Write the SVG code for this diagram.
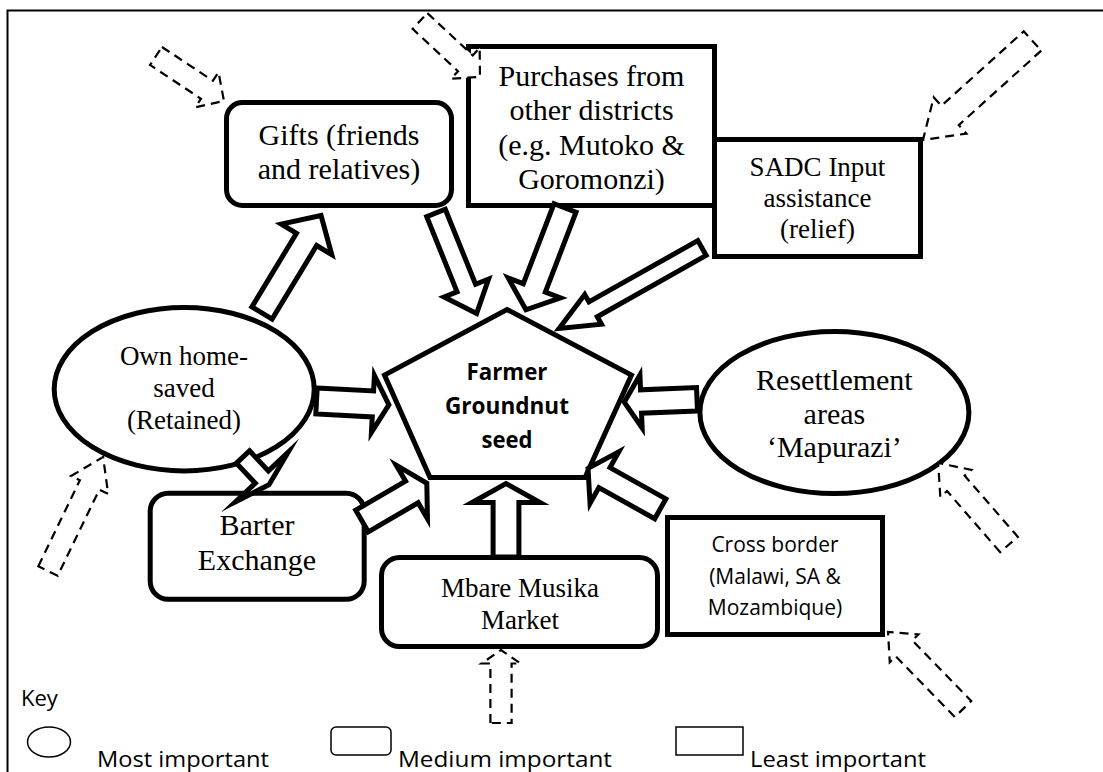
<svg xmlns="http://www.w3.org/2000/svg" width="1103" height="772" viewBox="0 0 1103 772">
<style>
  .box{fill:#fff;stroke:#000;stroke-width:5}
  .arw{fill:#fff;stroke:#000;stroke-width:5;stroke-linejoin:miter;stroke-miterlimit:10}
  .dash{fill:#fff;stroke:#000;stroke-width:2.2;stroke-dasharray:9 6}
  .serif{font-family:"Liberation Serif","Times New Roman",serif;fill:#000;text-anchor:middle}
  .sans{font-family:"Open Sans","Liberation Sans",sans-serif;fill:#000}
  .mid{text-anchor:middle}
  .keyshape{fill:none;stroke:#000;stroke-width:1.5}
</style>
<rect width="1103" height="772" fill="#fff"/>
<!-- frame: only the top and left edges are drawn -->
<path d="M7.5,772 V10.5 H1103" fill="none" stroke="#000" stroke-width="2"/>

<g id="nodes">
  <g id="gifts">
    <rect class="box" x="226.5" y="102.5" width="225" height="103" rx="16"/>
    <text class="serif" font-size="30" x="339" y="145">Gifts (friends</text>
    <text class="serif" font-size="30" x="339" y="178.5">and relatives)</text>
  </g>
  <g id="purchases">
    <rect class="box" x="468.5" y="46.5" width="246" height="159"/>
    <text class="serif" font-size="30" x="591.5" y="86">Purchases from</text>
    <text class="serif" font-size="30" x="591.5" y="120">other districts</text>
    <text class="serif" font-size="30" x="591.5" y="155">(e.g. Mutoko &amp;</text>
    <text class="serif" font-size="30" x="591.5" y="189">Goromonzi)</text>
  </g>
  <g id="sadc">
    <rect class="box" x="714.5" y="139.5" width="206" height="117"/>
    <text class="serif" font-size="27" x="817.5" y="176">SADC Input</text>
    <text class="serif" font-size="27" x="817.5" y="207">assistance</text>
    <text class="serif" font-size="27" x="817.5" y="238">(relief)</text>
  </g>
  <g id="own-saved">
    <ellipse class="box" cx="184.2" cy="389.2" rx="130" ry="81.7"/>
    <text class="serif" font-size="27" x="184" y="365">Own home-</text>
    <text class="serif" font-size="27" x="184" y="397">saved</text>
    <text class="serif" font-size="27" x="184" y="429">(Retained)</text>
  </g>
  <g id="farmer-seed">
    <polygon class="box" points="507,309.5 631.5,375 585,477.5 430,477.5 384.5,375"/>
    <text class="sans mid" font-size="23.5" font-weight="bold" x="507" y="380" textLength="81" lengthAdjust="spacingAndGlyphs">Farmer</text>
    <text class="sans mid" font-size="23.5" font-weight="bold" x="507" y="414" textLength="124" lengthAdjust="spacingAndGlyphs">Groundnut</text>
    <text class="sans mid" font-size="23.5" font-weight="bold" x="507" y="448" textLength="51" lengthAdjust="spacingAndGlyphs">seed</text>
  </g>
  <g id="resettlement">
    <ellipse class="box" cx="834.4" cy="412.5" rx="134.5" ry="81"/>
    <text class="serif" font-size="30" x="834.4" y="390">Resettlement</text>
    <text class="serif" font-size="30" x="834.4" y="424">areas</text>
    <text class="serif" font-size="30" x="834.4" y="457">‘Mapurazi’</text>
  </g>
  <g id="barter">
    <rect class="box" x="150.2" y="493.2" width="214" height="106" rx="18"/>
    <text class="serif" font-size="30" x="257" y="535">Barter</text>
    <text class="serif" font-size="30" x="257" y="570">Exchange</text>
  </g>
  <g id="mbare">
    <rect class="box" x="381.5" y="557.5" width="276" height="89" rx="18"/>
    <text class="serif" font-size="27" x="520" y="597">Mbare Musika</text>
    <text class="serif" font-size="27" x="520" y="628.5">Market</text>
  </g>
  <g id="cross-border">
    <rect class="box" x="667.5" y="517.5" width="215" height="117"/>
    <text class="sans mid" font-size="21" x="775" y="552">Cross border</text>
    <text class="sans mid" font-size="21" x="775" y="583.5">(Malawi, SA &amp;</text>
    <text class="sans mid" font-size="21" x="775" y="615">Mozambique)</text>
  </g>
</g>

<g id="connectors">
  <!-- block arrows: tail at origin, pointing along +x -->
  <polygon class="arw" transform="translate(262,313) rotate(-58.8)" points="0,-11.8 86,-11.8 86,-29.5 114,0 86,29.5 86,11.8 0,11.8"/>
  <polygon class="arw" transform="translate(436,213) rotate(68)" points="0,-10 80.9,-10 80.9,-24 108.4,0 80.9,24 80.9,10 0,10"/>
  <polygon class="arw" transform="translate(565,208) rotate(111)" points="0,-11.8 85.6,-11.8 85.6,-28 109,0 85.6,28 85.6,11.8 0,11.8"/>
  <polygon class="arw" transform="translate(702,248) rotate(150.6)" points="0,-8.5 125,-8.5 125,-17 164,0 125,17 125,8.5 0,8.5"/>
  <polygon class="arw" transform="translate(316.5,401) rotate(3)" points="0,-13 56.5,-13 56.5,-28.5 72.5,0 56.5,28.5 56.5,13 0,13"/>
  <polygon class="arw" transform="translate(243,457) rotate(46.7)" points="0,-9 27.5,-9 27.5,-36 38,0 27.5,36 27.5,9 0,9"/>
  <polygon class="arw" transform="translate(362,521) rotate(-30.2)" points="0,-12.5 57.7,-12.5 57.7,-31 75,0 57.7,31 57.7,12.5 0,12.5"/>
  <polygon class="arw" transform="translate(697,399.2) rotate(177.6)" points="0,-11.7 56,-11.7 56,-26.5 72.8,0 56,26.5 56,11.7 0,11.7"/>
  <polygon class="arw" transform="translate(660.3,508.8) rotate(-150.8)" points="0,-11.4 64,-11.4 64,-29.5 82.8,0 64,29.5 64,11.4 0,11.4"/>
  <polygon class="arw" transform="translate(506,557) rotate(-90)" points="0,-12.9 54.5,-12.9 54.5,-34 73.5,0 54.5,34 54.5,12.9 0,12.9"/>

  <!-- dashed outside-source arrows -->
  <polygon class="dash" transform="translate(156,56) rotate(33.5)" points="0,-10.8 61.1,-10.8 61.1,-21 81.5,0 61.1,21 61.1,10.8 0,10.8"/>
  <polygon class="dash" transform="translate(420,21) rotate(43)" points="0,-10.8 62,-10.8 62,-21 82,0 62,21 62,10.8 0,10.8"/>
  <polygon class="dash" transform="translate(1032.5,41) rotate(137.9)" points="0,-13 111.1,-13 111.1,-24.4 147.6,0 111.1,24.4 111.1,13 0,13"/>
  <polygon class="dash" transform="translate(48,571) rotate(-64.2)" points="0,-10.8 95.6,-10.8 95.6,-20.6 126.6,0 95.6,20.6 95.6,10.8 0,10.8"/>
  <polygon class="dash" transform="translate(1009,544.5) rotate(-131)" points="0,-11.7 81,-11.7 81,-20.6 108,0 81,20.6 81,11.7 0,11.7"/>
  <polygon class="dash" transform="translate(501,723) rotate(-90)" points="0,-10.6 59.5,-10.6 59.5,-19.5 73,0 59.5,19.5 59.5,10.6 0,10.6"/>
  <polygon class="dash" transform="translate(963,709) rotate(-134.2)" points="0,-11.5 84.5,-11.5 84.5,-20 107.5,0 84.5,20 84.5,11.5 0,11.5"/>
</g>

<g id="key">
  <text class="sans" font-size="22" x="21" y="706">Key</text>
  <ellipse class="keyshape" cx="49" cy="742" rx="21.5" ry="15"/>
  <text class="sans" font-size="22.5" x="97" y="767" textLength="172" lengthAdjust="spacingAndGlyphs">Most important</text>
  <rect class="keyshape" x="331" y="727" width="60" height="28" rx="5"/>
  <text class="sans" font-size="22.5" x="398" y="767" textLength="214" lengthAdjust="spacingAndGlyphs">Medium important</text>
  <rect class="keyshape" x="676" y="727" width="67" height="28"/>
  <text class="sans" font-size="22.5" x="750" y="767" textLength="176" lengthAdjust="spacingAndGlyphs">Least important</text>
</g>
</svg>
